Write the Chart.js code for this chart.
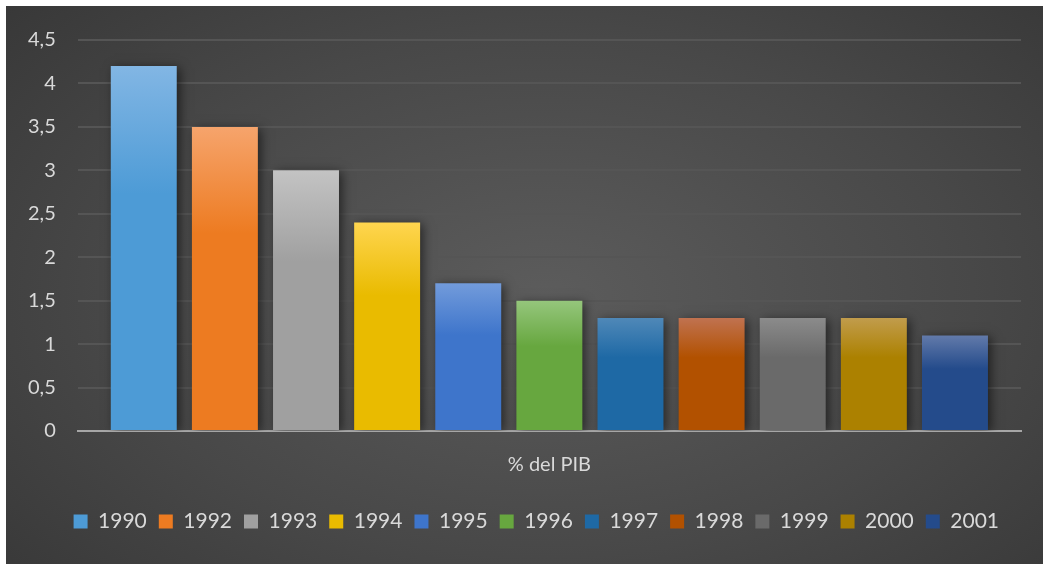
<!DOCTYPE html>
<html>
<head>
<meta charset="utf-8">
<script src="https://cdn.jsdelivr.net/npm/chart.js@4"></script>
<style>
  html, body { margin: 0; padding: 0; background: #fff; }
  #wrap {
    position: absolute; left: 6px; top: 6px; width: 1037px; height: 558px;
    background: radial-gradient(ellipse 75% 85% at 52% 52%, #5c5c5c 0%, #484848 55%, #353535 100%);
  }
</style>
</head>
<body>
<div id="wrap"><canvas id="chart"></canvas></div>
<script>
// data
const categories = ['% del PIB'];
const years = ['1990', '1992', '1993', '1994', '1995', '1996', '1997', '1998', '1999', '2000', '2001'];
const values = [4.2, 3.5, 3.0, 2.4, 1.7, 1.5, 1.3, 1.3, 1.3, 1.3, 1.1];
// top / bottom colours of each bar gradient
const topColors = ['#82b6e4', '#f6a46c', '#c3c3c3', '#ffd54f', '#729bdb', '#95c67c', '#4f88b8', '#c07250', '#8b8b8b', '#c19c4c', '#627aaa'];
const bottomColors = ['#4d9bd6', '#ed7b21', '#a0a0a0', '#e9bb00', '#3e75cb', '#67a73f', '#1e69a5', '#b25100', '#6a6a6a', '#ac8100', '#244b8b'];

function barGradient(context, i) {
    const chart = context.chart;
    const area = chart.chartArea;
    if (!area || context.type !== 'data') return bottomColors[i];
    const yScale = chart.scales.y;
    const top = yScale.getPixelForValue(values[i]);
    const g = chart.ctx.createLinearGradient(0, top, 0, area.bottom);
    g.addColorStop(0, topColors[i]);
    g.addColorStop(0.35, bottomColors[i]);
    g.addColorStop(1, bottomColors[i]);
    return g;
}

// shadow behind the bars
const barShadow = {
    id: 'barShadow',
    beforeDatasetsDraw(chart) {
        const ctx = chart.ctx;
        ctx.save();
        ctx.shadowColor = 'rgba(0,0,0,0.55)';
        ctx.shadowBlur = 10;
        ctx.shadowOffsetX = 3;
        ctx.shadowOffsetY = 2;
    },
    afterDatasetsDraw(chart) {
        chart.ctx.restore();
    }
};

// nudge the legend row a little to the left
const legendShift = {
    id: 'legendShift',
    afterLayout(chart) {
        if (chart.legend) {
            chart.legend.left -= 10;
            chart.legend.right -= 10;
        }
    }
};

const datasets = years.map((y, i) => ({
    label: y,
    data: [values[i]],
    backgroundColor: (c) => barGradient(c, i),
    borderWidth: 0,
    barPercentage: 0.813,
    categoryPercentage: 0.946
}));

const fontFamily = 'Lato, "Open Sans", sans-serif';

new Chart(document.getElementById('chart'), {
    type: 'bar',
    data: { labels: categories, datasets },
    options: {
        responsive: true,
        maintainAspectRatio: false,
        animation: false,
        layout: { padding: { left: 0, right: 22, top: 28, bottom: 22 } },
        plugins: {
            tooltip: { enabled: false },
            legend: {
                position: 'bottom',
                align: 'end',
                labels: {
                    color: '#d9d9d9',
                    boxWidth: 14,
                    boxHeight: 14,
                    padding: 12,
                    font: { family: fontFamily, size: 21 },
                    generateLabels(chart) {
                        return years.map((y, i) => ({
                            text: y,
                            fillStyle: bottomColors[i],
                            strokeStyle: bottomColors[i],
                            lineWidth: 0,
                            fontColor: '#d9d9d9',
                            datasetIndex: i,
                            hidden: false
                        }));
                    }
                }
            }
        },
        scales: {
            x: {
                grid: { display: false },
                border: { color: '#a6a6a6', width: 2 },
                ticks: { color: '#d9d9d9', font: { family: fontFamily, size: 20 }, padding: 14 },
                afterFit(scale) { scale.height += 8; }
            },
            y: {
                min: 0,
                max: 4.5,
                grid: { color: '#555555', lineWidth: 2, drawTicks: false },
                border: { display: false },
                ticks: {
                    stepSize: 0.5,
                    color: '#d9d9d9',
                    padding: 22,
                    font: { family: fontFamily, size: 20 },
                    callback: (v) => v.toString().replace('.', ',')
                }
            }
        }
    },
    plugins: [barShadow, legendShift]
});
</script>
</body>
</html>
